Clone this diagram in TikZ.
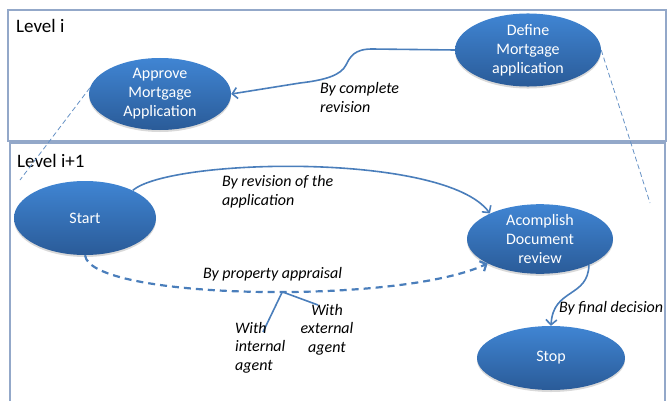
\documentclass[tikz,border=0pt]{standalone}
\usepackage{fontspec}
\setmainfont{Carlito}
\usetikzlibrary{shapes.geometric,shadows,arrows.meta}

\definecolor{stateTop}{HTML}{4085D3}
\definecolor{stateBottom}{HTML}{2A5B98}
\definecolor{flowLine}{HTML}{4A7EBB}
\definecolor{frameLine}{HTML}{93A8C9}

\tikzstyle{state} = [ellipse, draw=none, top color=stateTop, bottom color=stateBottom, text=white, align=center, inner sep=0pt, minimum width=146pt, minimum height=64pt, font=\fontsize{16}{19}\selectfont, drop shadow={opacity=0.3, shadow xshift=0pt, shadow yshift=-2pt}]
\tikzstyle{flow-arrow} = [line width=1.6pt, draw=flowLine, -{Straight Barb[length=5pt,width=11pt]}]
\tikzstyle{flow-label} = [inner sep=0pt, anchor=base west, align=left, font=\fontsize{16}{18.5}\selectfont\itshape]
\tikzstyle{level-label} = [inner sep=0pt, anchor=base west, font=\fontsize{19}{22}\selectfont]
\tikzstyle{zoom-line} = [draw=flowLine!85, line width=0.8pt, dash pattern=on 5pt off 3pt]

\begin{document}
\begin{tikzpicture}[x=1pt,y=-1pt]
	\useasboundingbox (0,0) rectangle (668,401);

	% the two levels
	\draw [frameLine, line width=1.2pt] (8,10) rectangle (666,141);
	\draw [frameLine, line width=1.2pt] (10,401) -- (10,143) -- (665,143) -- (665,401);
	\node [level-label] (level-i) at (16,33) {Level i};
	\node [level-label] (level-next) at (17,167) {Level i+1};

	\node [state, minimum width=142pt, minimum height=72pt] (approve) at (160,94) {Approve\\Mortgage\\Application};
	\node [state, minimum height=62pt] (define) at (528,50) {Define\\Mortgage\\application};
	\node [state, minimum width=142pt, minimum height=74pt] (start) at (85,218) {Start};
	\node [state, minimum height=62pt] (review) at (540,239) {Acomplish\\Document\\review};
	\node [state, minimum width=148pt] (stop) at (551,358) {Stop};

	\coordinate (zoom-left) at (20,180);
	\coordinate (zoom-right) at (650,203);
	\draw [zoom-line] (approve.175) -- (zoom-left);
	\draw [zoom-line] (define.east) -- (zoom-right);

	\draw [flow-arrow] (define.west) -- (372,49) .. controls (354,49) and (350,57) .. (346,65) .. controls (341,75) and (326,80) .. (300,83) -- (approve.east);
	\node [flow-label] (complete) at (320,112) {By complete\\revision};

	\draw [flow-arrow] (start.30) .. controls (170,158) and (445,152) .. (review.153);
	\node [flow-label] (revision) at (222,205) {By revision of the\\application};

	\draw [flow-arrow, line width=2.2pt, dash pattern=on 7pt off 5pt] (start.south) .. controls (90,300) and (400,305) .. (review.205) coordinate [pos=0.55] (split);
	\node [flow-label] (appraisal) at (203,278) {By property appraisal};

	\coordinate (internal-end) at (263,332);
	\coordinate (external-end) at (318,305);
	\draw [flowLine, line width=1.6pt] (split) -- (internal-end);
	\draw [flowLine, line width=1.6pt] (split) -- (external-end);
	\node [flow-label] (internal) at (235,370) {With\\internal\\agent};
	\node [flow-label, align=center, anchor=base] (external) at (327,352) {With\\external\\agent};

	\draw [flow-arrow] (review.-28) .. controls (588,298) and (553,288) .. (stop.north);
	\node [flow-label] (decision) at (559,312) {By final decision};

\end{tikzpicture}
\end{document}
